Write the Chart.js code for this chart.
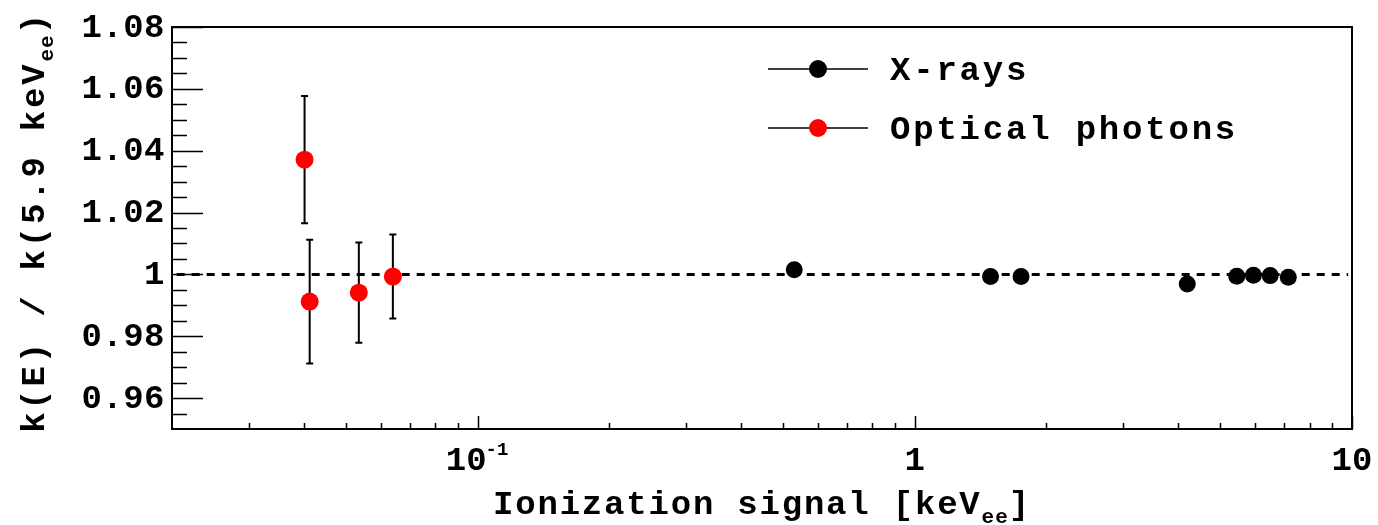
<!DOCTYPE html>
<html><head><meta charset="utf-8">
<script src="https://cdn.jsdelivr.net/npm/chart.js@4/dist/chart.umd.min.js"></script>
<style>html,body{margin:0;padding:0;background:#fff;} #wrap{width:1378px;height:525px;position:relative;}</style>
</head><body><div id="wrap"><canvas id="c" width="1378" height="525"></canvas></div>
<script>
// ---- data ----
const seriesNames = ['X-rays', 'Optical photons'];
const xrayEnergy = [0.53, 1.49, 1.75, 4.2, 5.45, 5.95, 6.5, 7.15];
const xrayRatio = [1.0015, 0.9993, 0.9993, 0.9969, 0.9994, 0.9997, 0.9996, 0.9991];
const opticalEnergy = [0.0402, 0.0413, 0.0535, 0.064];
const opticalRatio = [1.0371, 0.9912, 0.9941, 0.9993];
const opticalErr = [0.0206, 0.0200, 0.0162, 0.0136];
const refLineX = [0.0205, 9.8];
const refLineY = [1, 1];
const yMajorTicks = [0.96, 0.98, 1.00, 1.02, 1.04, 1.06, 1.08];
const yTickLabels = ['0.96', '0.98', '1', '1.02', '1.04', '1.06', '1.08'];
const yMinorTicks = [0.955, 0.965, 0.97, 0.975, 0.985, 0.99, 0.995, 1.005, 1.01, 1.015, 1.025, 1.03, 1.035, 1.045, 1.05, 1.055, 1.065, 1.07, 1.075];
const xMajorTicks = [0.1, 1, 10];
const xTickBase = ['10', '1', '10'];
const xTickExp = ['-1', '', ''];
const xMinorTicks = [0.03, 0.04, 0.05, 0.06, 0.07, 0.08, 0.09, 0.2, 0.3, 0.4, 0.5, 0.6, 0.7, 0.8, 0.9, 2, 3, 4, 5, 6, 7, 8, 9];
const xTitle = ['Ionization signal [keV', 'ee', ']'];
const yTitle = ['k(E) / k(5.9 keV', 'ee', ')'];

const FONT = '"Liberation Mono", "DejaVu Sans Mono", monospace';
function setFont(ctx, size, spacing) {
  ctx.font = 'bold ' + size + 'px ' + FONT;
  if ('letterSpacing' in ctx) ctx.letterSpacing = (spacing || 0) + 'px';
}
function drawSubText(ctx, parts, size, subSize, spacing, subShift) {
  setFont(ctx, size, spacing); const w0 = ctx.measureText(parts[0]).width;
  const w2 = ctx.measureText(parts[2]).width;
  setFont(ctx, subSize, 1); const w1 = ctx.measureText(parts[1]).width;
  let x = -(w0 + w1 + w2) / 2;
  ctx.textAlign = 'left'; ctx.textBaseline = 'alphabetic';
  setFont(ctx, size, spacing); ctx.fillText(parts[0], x, 0); x += w0;
  setFont(ctx, subSize, 1); ctx.fillText(parts[1], x, subShift); x += w1;
  setFont(ctx, size, spacing); ctx.fillText(parts[2], x, 0);
}

const rootStyle = {
  id: 'rootStyle',
  beforeDatasetsDraw(chart) {
    const ctx = chart.ctx, xs = chart.scales.x, ys = chart.scales.y;
    ctx.save();
    ctx.strokeStyle = '#000'; ctx.lineWidth = 2;
    opticalEnergy.forEach((e, i) => {
      const px = xs.getPixelForValue(e);
      const top = ys.getPixelForValue(opticalRatio[i] + opticalErr[i]);
      const bot = ys.getPixelForValue(opticalRatio[i] - opticalErr[i]);
      ctx.beginPath();
      ctx.moveTo(px, top); ctx.lineTo(px, bot);
      ctx.moveTo(px - 3.5, top); ctx.lineTo(px + 3.5, top);
      ctx.moveTo(px - 3.5, bot); ctx.lineTo(px + 3.5, bot);
      ctx.stroke();
    });
    ctx.restore();
  },
  afterDraw(chart) {
    const ctx = chart.ctx, a = chart.chartArea, xs = chart.scales.x, ys = chart.scales.y;
    ctx.save();
    ctx.fillStyle = '#000'; ctx.strokeStyle = '#000';
    ctx.lineWidth = 2;
    ctx.strokeRect(a.left, a.top, a.right - a.left, a.bottom - a.top);
    ctx.lineWidth = 1.5;
    ctx.beginPath();
    yMajorTicks.forEach(v => { const p = Math.round(ys.getPixelForValue(v)) + 0.5; ctx.moveTo(a.left, p); ctx.lineTo(a.left + 31, p); });
    yMinorTicks.forEach(v => { const p = Math.round(ys.getPixelForValue(v)) + 0.5; ctx.moveTo(a.left, p); ctx.lineTo(a.left + 15, p); });
    xMajorTicks.forEach(v => { const p = Math.round(xs.getPixelForValue(v)) + 0.5; ctx.moveTo(p, a.bottom); ctx.lineTo(p, a.bottom - 13); });
    xMinorTicks.forEach(v => { const p = Math.round(xs.getPixelForValue(v)) + 0.5; ctx.moveTo(p, a.bottom); ctx.lineTo(p, a.bottom - 6); });
    ctx.stroke();
    // y tick labels
    setFont(ctx, 34, 0.5);
    ctx.textAlign = 'right'; ctx.textBaseline = 'middle';
    yMajorTicks.forEach((v, i) => { ctx.fillText(yTickLabels[i], a.left - 7, ys.getPixelForValue(v) + 1); });
    // x tick labels
    ctx.textBaseline = 'alphabetic';
    xMajorTicks.forEach((v, i) => {
      const px = xs.getPixelForValue(v);
      setFont(ctx, 34, 0); const wb = ctx.measureText(xTickBase[i]).width;
      let we = 0;
      if (xTickExp[i]) { setFont(ctx, 19, 0); we = ctx.measureText(xTickExp[i]).width; }
      let x0 = px - (wb + we) / 2;
      ctx.textAlign = 'left';
      setFont(ctx, 34, 0); ctx.fillText(xTickBase[i], x0, 470);
      if (xTickExp[i]) { setFont(ctx, 19, 0); ctx.fillText(xTickExp[i], x0 + wb - 1, 455); }
    });
    // x title
    ctx.save(); ctx.translate((a.left + a.right) / 2, 514);
    drawSubText(ctx, xTitle, 34, 21, 1.8, 9);
    ctx.restore();
    // y title
    ctx.save(); ctx.translate(44, 222); ctx.rotate(-Math.PI / 2);
    drawSubText(ctx, yTitle, 34, 21, 2.8, 9);
    ctx.restore();
    // legend
    const legY = [69, 128], legCol = ['#000000', '#ff0000'];
    seriesNames.forEach((name, i) => {
      ctx.lineWidth = 1.5; ctx.strokeStyle = '#000';
      ctx.beginPath(); ctx.moveTo(768, legY[i]); ctx.lineTo(868, legY[i]); ctx.stroke();
      ctx.fillStyle = legCol[i];
      ctx.beginPath(); ctx.arc(818, legY[i], 9, 0, Math.PI * 2); ctx.fill();
      ctx.fillStyle = '#000';
      setFont(ctx, 34, 2.8); ctx.textAlign = 'left'; ctx.textBaseline = 'alphabetic';
      ctx.fillText(name, 890, legY[i] + 11);
    });
    ctx.restore();
  }
};

new Chart(document.getElementById('c'), {
  type: 'scatter',
  data: {
    datasets: [
      { label: 'reference', type: 'line', data: refLineX.map((x, i) => ({ x: x, y: refLineY[i] })),
        borderColor: '#000', borderWidth: 3, borderDash: [8, 7], pointRadius: 0, fill: false, order: 10 },
      { label: seriesNames[0], data: xrayEnergy.map((x, i) => ({ x: x, y: xrayRatio[i] })),
        backgroundColor: '#000', borderWidth: 0, pointRadius: 8.5, pointHoverRadius: 8.5, order: 2 },
      { label: seriesNames[1], data: opticalEnergy.map((x, i) => ({ x: x, y: opticalRatio[i] })),
        backgroundColor: '#ff0000', borderWidth: 0, pointRadius: 9, pointHoverRadius: 9, order: 1 }
    ]
  },
  options: {
    responsive: false, animation: false, devicePixelRatio: 1,
    layout: { padding: { left: 172, top: 27, right: 26, bottom: 96 } },
    scales: {
      x: { type: 'logarithmic', min: 0.02, max: 10, display: false },
      y: { type: 'linear', min: 0.95, max: 1.08, display: false }
    },
    plugins: { legend: { display: false }, tooltip: { enabled: false } }
  },
  plugins: [rootStyle]
});
</script>
</body></html>
